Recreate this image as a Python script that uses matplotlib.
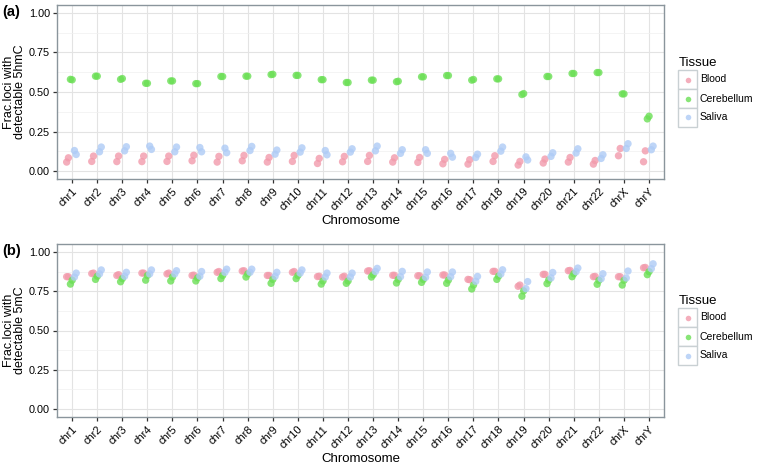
import numpy as np
from matplotlib import pyplot as plt
from matplotlib.patches import Rectangle
from matplotlib.ticker import MultipleLocator

plt.rcParams["font.family"] = ["Liberation Sans", "DejaVu Sans"]

chromosomes = [f"chr{i}" for i in range(1, 23)] + ["chrX", "chrY"]
tissues = ["Blood", "Cerebellum", "Saliva"]
tissue_colors = {"Blood": "#F29AAB", "Cerebellum": "#6BDF55", "Saliva": "#AECBF6"}

# panel (a): fraction of loci with detectable 5hmC, two samples per tissue
hmc_blood_1 = [0.057, 0.061, 0.060, 0.060, 0.061, 0.065, 0.057, 0.065, 0.057, 0.061, 0.048, 0.059,
               0.061, 0.057, 0.055, 0.046, 0.044, 0.061, 0.038, 0.051, 0.057, 0.044, 0.097, 0.059]
hmc_blood_2 = [0.084, 0.095, 0.095, 0.095, 0.095, 0.100, 0.093, 0.099, 0.086, 0.099, 0.080, 0.093,
               0.099, 0.084, 0.086, 0.074, 0.072, 0.097, 0.061, 0.076, 0.086, 0.067, 0.143, 0.128]
hmc_cereb_1 = [0.580, 0.600, 0.580, 0.555, 0.570, 0.553, 0.598, 0.600, 0.610, 0.605, 0.578, 0.560,
               0.575, 0.565, 0.596, 0.604, 0.575, 0.583, 0.484, 0.598, 0.617, 0.623, 0.488, 0.330]
hmc_cereb_2 = [0.577, 0.600, 0.585, 0.555, 0.570, 0.553, 0.598, 0.600, 0.612, 0.605, 0.578, 0.560,
               0.575, 0.568, 0.596, 0.604, 0.579, 0.583, 0.490, 0.598, 0.617, 0.623, 0.488, 0.347]
hmc_saliva_1 = [0.130, 0.122, 0.128, 0.158, 0.122, 0.149, 0.145, 0.130, 0.107, 0.120, 0.130, 0.120,
                0.128, 0.112, 0.135, 0.112, 0.086, 0.126, 0.090, 0.093, 0.114, 0.080, 0.143, 0.135]
hmc_saliva_2 = [0.105, 0.152, 0.154, 0.137, 0.152, 0.122, 0.116, 0.156, 0.133, 0.147, 0.103, 0.141,
                0.158, 0.135, 0.112, 0.088, 0.107, 0.152, 0.070, 0.116, 0.141, 0.103, 0.173, 0.158]

# panel (b): fraction of loci with detectable 5mC
mc_blood_1 = [0.842, 0.862, 0.850, 0.865, 0.860, 0.850, 0.870, 0.878, 0.850, 0.870, 0.843, 0.840,
              0.878, 0.851, 0.848, 0.853, 0.825, 0.876, 0.781, 0.857, 0.880, 0.842, 0.842, 0.899]
mc_blood_2 = [0.842, 0.865, 0.855, 0.865, 0.865, 0.852, 0.875, 0.880, 0.850, 0.875, 0.845, 0.845,
              0.880, 0.851, 0.848, 0.853, 0.823, 0.876, 0.789, 0.857, 0.882, 0.844, 0.842, 0.901]
mc_cereb_1 = [0.795, 0.825, 0.810, 0.820, 0.815, 0.815, 0.830, 0.840, 0.800, 0.830, 0.795, 0.800,
              0.840, 0.802, 0.806, 0.800, 0.764, 0.825, 0.718, 0.798, 0.842, 0.794, 0.789, 0.855]
mc_cereb_2 = [0.820, 0.845, 0.830, 0.850, 0.840, 0.835, 0.850, 0.860, 0.825, 0.850, 0.815, 0.815,
              0.855, 0.825, 0.825, 0.821, 0.789, 0.846, 0.752, 0.821, 0.861, 0.819, 0.819, 0.874]
mc_saliva_1 = [0.840, 0.860, 0.845, 0.860, 0.860, 0.845, 0.870, 0.870, 0.845, 0.865, 0.840, 0.840,
               0.875, 0.842, 0.838, 0.842, 0.813, 0.859, 0.766, 0.834, 0.874, 0.829, 0.834, 0.893]
mc_saliva_2 = [0.865, 0.885, 0.870, 0.885, 0.880, 0.875, 0.890, 0.890, 0.870, 0.885, 0.865, 0.865,
               0.895, 0.876, 0.872, 0.872, 0.844, 0.886, 0.811, 0.869, 0.897, 0.861, 0.878, 0.924]

panels = [
    ("(a)", "Frac.loci with\ndetectable 5hmC",
     {"Blood": (hmc_blood_1, hmc_blood_2), "Cerebellum": (hmc_cereb_1, hmc_cereb_2),
      "Saliva": (hmc_saliva_1, hmc_saliva_2)}),
    ("(b)", "Frac.loci with\ndetectable 5mC",
     {"Blood": (mc_blood_1, mc_blood_2), "Cerebellum": (mc_cereb_1, mc_cereb_2),
      "Saliva": (mc_saliva_1, mc_saliva_2)}),
]

dodge = {"Blood": -0.18, "Cerebellum": -0.03, "Saliva": 0.13}
spread = 0.035

W, H = 760, 466


def fx(px):
    return px / W


def fy(py):
    return 1 - py / H


fig = plt.figure(figsize=(7.6, 4.66), dpi=100)
# axes boxes in pixels: left, top, right, bottom ; legend title y in pixels
layout = [(57, 5, 664, 179, 63), (57, 244, 664, 417, 301)]
x = np.arange(len(chromosomes))

for (tag, ylab, data), (l, t, r, b, leg_y) in zip(panels, layout):
    ax = fig.add_axes([fx(l), fy(b), fx(r) - fx(l), fy(t) - fy(b)])
    ax.set_axisbelow(True)
    for tis in tissues:
        s1, s2 = data[tis]
        for s, off in ((s1, -spread), (s2, spread)):
            ax.scatter(x + dodge[tis] + off, s, s=28, color=tissue_colors[tis],
                       alpha=0.8, edgecolors="none", zorder=3)
    ax.set_xlim(-0.6, len(chromosomes) - 0.4)
    ax.set_ylim(-0.05, 1.05)
    ax.set_xticks(x)
    ax.set_xticklabels(chromosomes, rotation=45, ha="right", rotation_mode="anchor", fontsize=7.9)
    ax.yaxis.set_minor_locator(MultipleLocator(0.125))
    ax.set_yticks([0, 0.25, 0.5, 0.75, 1.0])
    ax.set_yticklabels(["0.00", "0.25", "0.50", "0.75", "1.00"], fontsize=7.8)
    ax.tick_params(axis="both", which="major", length=3, width=0.9, color="#333333", pad=2)
    ax.tick_params(axis="y", which="minor", length=0)
    ax.grid(True, which="major", color="#E3E3E3", linewidth=0.8)
    ax.grid(True, which="minor", axis="y", color="#F0F0F0", linewidth=0.5)
    for sp in ax.spines.values():
        sp.set_color("#8A959C")
        sp.set_linewidth(1.0)
    ax.set_xlabel("Chromosome", fontsize=9.5, labelpad=1.5)
    ax.set_ylabel(ylab, fontsize=9, labelpad=2, linespacing=0.95)
    fig.text(fx(2), fy(t + 7), tag, fontsize=10.5, fontweight="bold", ha="left", va="center")

    # legend drawn as ggplot-style key boxes
    fig.text(fx(679), fy(leg_y), "Tissue", fontsize=9.5, va="center", ha="left")
    key_top = leg_y + 7
    for i, tis in enumerate(tissues):
        kt = key_top + i * 19
        fig.patches.append(Rectangle((fx(678), fy(kt + 19)), fx(19), 19 / H,
                                     transform=fig.transFigure, facecolor="white",
                                     edgecolor="#C9D0D3", linewidth=1.0))
        fig.add_artist(plt.Line2D([fx(687.5)], [fy(kt + 9.5)], marker="o", markersize=4,
                                  color=tissue_colors[tis], alpha=0.8, markeredgewidth=0,
                                  linestyle="none", transform=fig.transFigure))
        fig.text(fx(700), fy(kt + 9.5), tis, fontsize=7.5, va="center", ha="left")

fig.savefig("out.png", dpi=100)
